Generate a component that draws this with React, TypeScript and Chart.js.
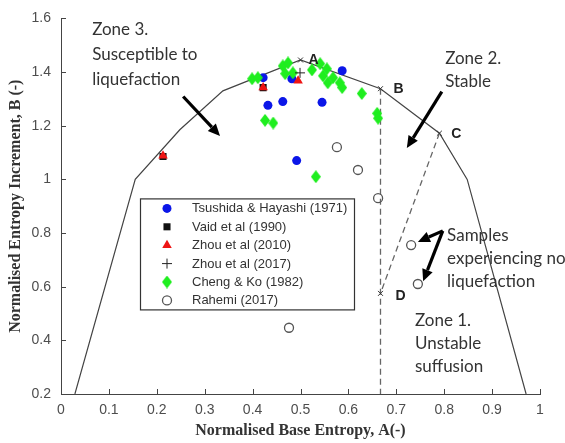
import React, { useEffect, useRef } from 'react';
import { Chart, registerables } from 'chart.js';
import { drawPoint } from 'chart.js/helpers';

Chart.register(...registerables);

// ---------- data ----------
const X_TICK_STEP = 0.1;
const Y_TICK_STEP = 0.2;

const ENVELOPE_A = [0.029, 0.155, 0.248, 0.338, 0.5, 0.667, 0.79, 0.848, 0.971];
const ENVELOPE_B = [0.2, 1.0, 1.185, 1.33, 1.445, 1.338, 1.172, 1.0, 0.2];

const LIMIT_A = [0.667, 0.667];
const LIMIT_B = [1.338, 0.2];

const CD_A = [0.79, 0.667];
const CD_B = [1.172, 0.575];

const KEY_NAMES = ['A', 'B', 'C', 'D'];
const KEY_A = [0.5, 0.667, 0.79, 0.667];
const KEY_B = [1.445, 1.338, 1.172, 0.575];

const TSUSHIDA_A = [0.422, 0.482, 0.587, 0.432, 0.463, 0.545, 0.492];
const TSUSHIDA_B = [1.379, 1.375, 1.405, 1.276, 1.29, 1.287, 1.07];

const VAID_A = [0.213, 0.422];
const VAID_B = [1.085, 1.342];

const ZHOU2010_A = [0.213, 0.422, 0.495];
const ZHOU2010_B = [1.088, 1.342, 1.368];

const ZHOU2017_A = [0.499];
const ZHOU2017_B = [1.397];

const CHENG_A = [0.399, 0.411, 0.463, 0.474, 0.468, 0.484, 0.524, 0.541, 0.547, 0.555, 0.557, 0.568, 0.582, 0.587, 0.628, 0.66, 0.662, 0.426, 0.443, 0.532];
const CHENG_B = [1.375, 1.379, 1.423, 1.434, 1.394, 1.397, 1.408, 1.431, 1.386, 1.412, 1.36, 1.379, 1.36, 1.342, 1.32, 1.246, 1.228, 1.22, 1.21, 1.01];

const RAHEMI_A = [0.576, 0.62, 0.662, 0.476, 0.731, 0.745];
const RAHEMI_B = [1.12, 1.035, 0.93, 0.447, 0.755, 0.61];

const LEGEND_NAMES = [
  'Tsushida & Hayashi (1971)',
  'Vaid et al (1990)',
  'Zhou et al (2010)',
  'Zhou et al (2017)',
  'Cheng & Ko (1982)',
  'Rahemi (2017)',
];

const X_TITLE = 'Normalised Base Entropy, A(-)';
const Y_TITLE = 'Normalised Entropy Increment, B (-)';

const ZONE_TEXTS = [
  { lines: ['Zone 3.', 'Susceptible to', 'liquefaction'], at: [0.065, 1.559], gap: 25 },
  { lines: ['Zone 2.', 'Stable'], at: [0.802, 1.449], gap: 23 },
  { lines: ['Samples', 'experiencing no', 'liquefaction'], at: [0.806, 0.79], gap: 23 },
  { lines: ['Zone 1.', 'Unstable', 'suffusion'], at: [0.739, 0.473], gap: 23 },
];

const ARROWS = [
  { from: [0.255, 1.309], to: [0.332, 1.162] },
  { from: [0.795, 1.327], to: [0.722, 1.117] },
  { from: [0.797, 0.808], to: [0.745, 0.767] },
  { from: [0.797, 0.808], to: [0.756, 0.62] },
];

const KEY_LABEL_OFFSETS = [[13, 0], [18, 0], [17, 1], [20, 3]];

// ---------- helpers ----------
const zip = (a: number[], b: number[]) => a.map((x, i) => ({ x, y: b[i] }));

function makeDiamond(w: number, h: number, color: string) {
  const c = document.createElement('canvas');
  c.width = w;
  c.height = h;
  const g = c.getContext('2d')!;
  g.fillStyle = color;
  g.beginPath();
  g.moveTo(w / 2, 0);
  g.lineTo(w, h / 2);
  g.lineTo(w / 2, h);
  g.lineTo(0, h / 2);
  g.closePath();
  g.fill();
  return c;
}

function drawArrow(ctx: CanvasRenderingContext2D, x1: number, y1: number, x2: number, y2: number) {
  const ang = Math.atan2(y2 - y1, x2 - x1);
  const L = 12;
  const W = 5.5;
  const bx = x2 - L * Math.cos(ang);
  const by = y2 - L * Math.sin(ang);
  ctx.beginPath();
  ctx.moveTo(x1, y1);
  ctx.lineTo(bx, by);
  ctx.stroke();
  ctx.beginPath();
  ctx.moveTo(x2, y2);
  ctx.lineTo(bx + W * Math.sin(ang), by - W * Math.cos(ang));
  ctx.lineTo(bx - W * Math.sin(ang), by + W * Math.cos(ang));
  ctx.closePath();
  ctx.fill();
}

const fmt = (v: any) => String(+Number(v).toFixed(1));

const overlayPlugin = {
  id: 'overlay',
  afterDraw(chart: any) {
    const ctx: CanvasRenderingContext2D = chart.ctx;
    const xs = chart.scales.x;
    const ys = chart.scales.y;
    const ca = chart.chartArea;
    const px = (a: number) => xs.getPixelForValue(a);
    const py = (b: number) => ys.getPixelForValue(b);
    ctx.save();

    // inward ticks
    ctx.strokeStyle = '#444';
    ctx.lineWidth = 1;
    ctx.beginPath();
    xs.ticks.forEach((t: any) => {
      const x = Math.round(px(t.value)) + 0.5;
      ctx.moveTo(x, ca.bottom);
      ctx.lineTo(x, ca.bottom - 5);
    });
    ys.ticks.forEach((t: any) => {
      const y = Math.round(py(t.value)) + 0.5;
      ctx.moveTo(ca.left, y);
      ctx.lineTo(ca.left + 5, y);
    });
    ctx.stroke();

    // y axis title
    ctx.save();
    ctx.fillStyle = '#333';
    ctx.font = 'bold 16px "Liberation Serif", "Times New Roman", serif';
    ctx.textAlign = 'center';
    ctx.textBaseline = 'middle';
    ctx.translate(16, (ca.top + ca.bottom) / 2);
    ctx.rotate(-Math.PI / 2);
    ctx.fillText(Y_TITLE, 0, 0);
    ctx.restore();

    // key point labels
    ctx.fillStyle = '#222';
    ctx.font = 'bold 14px "Liberation Sans", Arial, sans-serif';
    ctx.textAlign = 'center';
    ctx.textBaseline = 'middle';
    KEY_NAMES.forEach((n, i) => {
      ctx.fillText(n, px(KEY_A[i]) + KEY_LABEL_OFFSETS[i][0], py(KEY_B[i]) + KEY_LABEL_OFFSETS[i][1]);
    });

    // zone texts
    ctx.fillStyle = '#333';
    ctx.font = '17px Lato, "Open Sans", sans-serif';
    ctx.textAlign = 'left';
    ZONE_TEXTS.forEach((z) => {
      z.lines.forEach((l, i) => {
        ctx.fillText(l, px(z.at[0]), py(z.at[1]) + i * z.gap);
      });
    });

    // arrows
    ctx.strokeStyle = '#000';
    ctx.fillStyle = '#000';
    ctx.lineWidth = 3.2;
    ctx.lineCap = 'butt';
    ARROWS.forEach((a) => drawArrow(ctx, px(a.from[0]), py(a.from[1]), px(a.to[0]), py(a.to[1])));

    // legend
    const lx = ca.left + 79;
    const ly = ca.top + 180;
    const lw = 214;
    const lh = 111;
    ctx.fillStyle = '#fff';
    ctx.fillRect(lx, ly, lw, lh);
    ctx.strokeStyle = '#333';
    ctx.lineWidth = 1.2;
    ctx.strokeRect(lx + 0.5, ly + 0.5, lw, lh);
    ctx.font = '13px "Liberation Sans", Arial, sans-serif';
    ctx.textAlign = 'left';
    ctx.textBaseline = 'middle';
    const dataSets = chart.data.datasets.filter((d: any) => d.legendIndex !== undefined);
    dataSets.sort((a: any, b: any) => a.legendIndex - b.legendIndex);
    dataSets.forEach((d: any, i: number) => {
      const rowY = ly + 10 + i * 18.4;
      ctx.save();
      ctx.fillStyle = d.backgroundColor;
      ctx.strokeStyle = d.borderColor;
      ctx.lineWidth = d.borderWidth;
      drawPoint(ctx, { pointStyle: d.pointStyle, radius: d.pointRadius, rotation: 0, borderWidth: d.borderWidth }, lx + 27, rowY);
      ctx.restore();
      ctx.fillStyle = '#333';
      ctx.fillText(LEGEND_NAMES[d.legendIndex], lx + 52, rowY + 0.5);
    });

    ctx.restore();
  },
};

export default function App() {
  const ref = useRef<HTMLCanvasElement | null>(null);

  useEffect(() => {
    if (!ref.current) return;
    const diamond = makeDiamond(10, 13, '#1fee1f');
    const chart = new Chart(ref.current, {
      type: 'scatter',
      data: {
        datasets: [
          {
            data: zip(KEY_A, KEY_B),
            pointStyle: 'crossRot',
            pointRadius: 3.5,
            borderColor: '#333',
            backgroundColor: '#333',
            borderWidth: 1,
            order: 0,
          },
          {
            legendIndex: 3,
            data: zip(ZHOU2017_A, ZHOU2017_B),
            pointStyle: 'cross',
            pointRadius: 5,
            borderColor: '#222',
            backgroundColor: '#222',
            borderWidth: 1,
            order: 1,
          },
          {
            legendIndex: 5,
            data: zip(RAHEMI_A, RAHEMI_B),
            pointStyle: 'circle',
            pointRadius: 4.5,
            borderColor: '#555',
            backgroundColor: 'rgba(255,255,255,0)',
            borderWidth: 1.3,
            order: 2,
          },
          {
            legendIndex: 4,
            data: zip(CHENG_A, CHENG_B),
            pointStyle: diamond,
            pointRadius: 6,
            borderColor: '#1fee1f',
            backgroundColor: '#1fee1f',
            borderWidth: 0,
            order: 3,
          },
          {
            legendIndex: 2,
            data: zip(ZHOU2010_A, ZHOU2010_B),
            pointStyle: 'triangle',
            pointRadius: 5.5,
            borderColor: '#ee1414',
            backgroundColor: '#ee1414',
            borderWidth: 0,
            order: 4,
          },
          {
            legendIndex: 1,
            data: zip(VAID_A, VAID_B),
            pointStyle: 'rect',
            pointRadius: 5,
            borderColor: '#111',
            backgroundColor: '#111',
            borderWidth: 0,
            order: 5,
          },
          {
            legendIndex: 0,
            data: zip(TSUSHIDA_A, TSUSHIDA_B),
            pointStyle: 'circle',
            pointRadius: 4.5,
            borderColor: '#0b16e8',
            backgroundColor: '#0b16e8',
            borderWidth: 0,
            order: 6,
          },
          {
            data: zip(LIMIT_A, LIMIT_B),
            showLine: true,
            pointRadius: 0,
            borderColor: '#666',
            borderWidth: 1.3,
            borderDash: [6, 4],
            order: 7,
          },
          {
            data: zip(CD_A, CD_B),
            showLine: true,
            pointRadius: 0,
            borderColor: '#666',
            borderWidth: 1.3,
            borderDash: [6, 4],
            order: 7,
          },
          {
            data: zip(ENVELOPE_A, ENVELOPE_B),
            showLine: true,
            pointRadius: 0,
            borderColor: '#444',
            borderWidth: 1.2,
            tension: 0,
            order: 8,
          },
        ] as any,
      },
      options: {
        responsive: false,
        animation: false,
        events: [],
        layout: { padding: { top: 14, right: 25, left: 0, bottom: 0 } },
        plugins: {
          legend: { display: false },
          tooltip: { enabled: false },
        },
        scales: {
          x: {
            type: 'linear',
            min: 0,
            max: 1,
            ticks: {
              stepSize: X_TICK_STEP,
              callback: fmt,
              color: '#4d4d4d',
              font: { family: '"Liberation Sans", Arial, sans-serif', size: 14 },
              padding: 8,
              maxRotation: 0,
              autoSkip: false,
            },
            grid: { display: false, drawTicks: false },
            border: { display: true, color: '#444', width: 1 },
            title: {
              display: true,
              text: X_TITLE,
              color: '#333',
              font: { family: '"Liberation Serif", "Times New Roman", serif', weight: 'bold', size: 16 },
              padding: { top: 0, bottom: 3 },
            },
            afterFit: (s: any) => {
              s.height = 49;
            },
          },
          y: {
            type: 'linear',
            min: 0.2,
            max: 1.6,
            ticks: {
              stepSize: Y_TICK_STEP,
              callback: fmt,
              color: '#4d4d4d',
              font: { family: '"Liberation Sans", Arial, sans-serif', size: 14 },
              padding: 10,
              autoSkip: false,
            },
            grid: { display: false, drawTicks: false },
            border: { display: true, color: '#444', width: 1 },
            title: { display: false },
            afterFit: (s: any) => {
              s.width = 61;
            },
          },
        },
      } as any,
      plugins: [overlayPlugin],
    });
    return () => chart.destroy();
  }, []);

  return (
    <div style={{ position: 'absolute', left: 0, top: 0, width: 565, height: 443, background: '#fff' }}>
      <canvas ref={ref} width={565} height={443} style={{ display: 'block' }} />
    </div>
  );
}
